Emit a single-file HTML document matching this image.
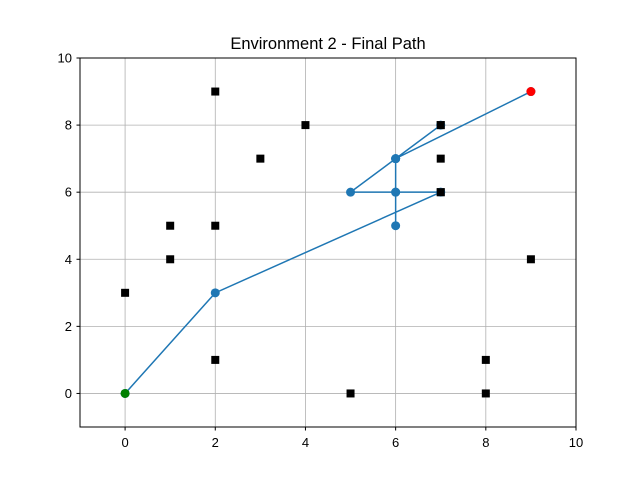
<!DOCTYPE html>
<html><head><meta charset="utf-8"><style>
body{margin:0;background:#fff}
svg{font-family:"Liberation Sans","DejaVu Sans",sans-serif}
</style></head><body>
<svg id="c" width="640" height="480" xmlns="http://www.w3.org/2000/svg">
<text x="328" y="49" font-size="16.5" text-anchor="middle">Environment 2 - Final Path</text>
<g id="grid"></g><g id="marks"></g>
<rect x="80" y="58" width="496" height="369" fill="none" stroke="#000" stroke-width="1"/>
<g id="ticks"></g>
</svg>
<script>
const xTicks=[0,2,4,6,8,10];
const yTicks=[0,2,4,6,8,10];
const obstaclesX=[2,4,3,7,7,7,1,2,1,0,9,2,8,5,8];
const obstaclesY=[9,8,7,8,7,6,5,5,4,3,4,1,1,0,0];
const pathX=[0,2,7,6,5,6,7,6,6,6,6,9];
const pathY=[0,3,6,6,6,7,8,7,6,5,7,9];
const start=[0,0], goal=[9,9];
const sx=v=>80+(v+1)*496/11, sy=v=>427-(v+1)*369/11;
const NS="http://www.w3.org/2000/svg";
function mk(t,a,p){const e=document.createElementNS(NS,t);for(const k in a)e.setAttribute(k,a[k]);p.appendChild(e);return e;}
const grid=document.getElementById('grid'),marks=document.getElementById('marks'),ticks=document.getElementById('ticks');
xTicks.forEach(v=>{const l=mk('line',{x1:sx(v),x2:sx(v),y1:58,y2:427,stroke:'#b0b0b0','stroke-width':0.8},grid);


const tk=mk('line',{x1:sx(v),x2:sx(v),y1:427,y2:430.5,stroke:'#000'},ticks);


const t=mk('text',{x:sx(v),y:447,'font-size':13,'text-anchor':'middle'},ticks);t.textContent=v;

});
yTicks.forEach(v=>{const l=mk('line',{y1:sy(v),y2:sy(v),x1:80,x2:576,stroke:'#b0b0b0','stroke-width':0.8},grid);


const tk=mk('line',{y1:sy(v),y2:sy(v),x1:76.5,x2:80,stroke:'#000'},ticks);


const t=mk('text',{x:72,y:sy(v)+4.5,'font-size':13,'text-anchor':'end'},ticks);t.textContent=v;

});
obstaclesX.forEach((x,i)=>{const r=mk('rect',{x:sx(x)-4,y:sy(obstaclesY[i])-4,width:8,height:8,fill:'#000'},marks);

});
const pl=mk('polyline',{points:pathX.map((x,i)=>sx(x)+','+sy(pathY[i])).join(' '),fill:'none',stroke:'#1f77b4','stroke-width':1.5},marks);


pathX.forEach((x,i)=>{const c=mk('circle',{cx:sx(x),cy:sy(pathY[i]),r:4.5,fill:'#1f77b4'},marks);

});
obstaclesX.forEach((x,i)=>{if(x==7&&obstaclesY[i]==8||x==7&&obstaclesY[i]==6){const r=mk('rect',{x:sx(x)-4,y:sy(obstaclesY[i])-4,width:8,height:8,fill:'#000'},marks);

}});
const s=mk('circle',{cx:sx(start[0]),cy:sy(start[1]),r:4.5,fill:'green'},marks);


const g=mk('circle',{cx:sx(goal[0]),cy:sy(goal[1]),r:4.5,fill:'red'},marks);


</script>
</body></html>
